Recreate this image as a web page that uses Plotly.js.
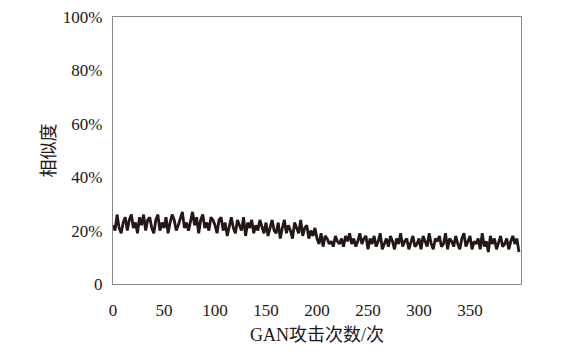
<!DOCTYPE html>
<html>
<head>
<meta charset="utf-8">
<script src="https://cdn.plot.ly/plotly-3.0.1.min.js"></script>
<style>html,body{margin:0;padding:0;background:#fff;}#chart{width:571px;height:356px;}</style>
</head>
<body>
<div id="chart"></div>
<script>
// attack counts (every 2 attempts)
const attackStep = 2;
// similarity values (%)
const similarity = [
  22,20,26,21,19,23,25,20,24,26,21,23,19,25,22,26,20,24,25,21,19,24,26,20,23,
  21,25,19,23,26,24,20,22,25,27,21,23,20,24,27,22,25,19,24,26,21,23,20,25,24,
  22,19,24,25,20,23,18,22,25,21,19,24,22,20,25,18,23,21,24,19,22,20,24,21,19,
  23,18,21,24,20,19,23,17,21,24,19,22,20,17,23,21,19,24,18,21,22,17,20,18,21,
  17,15,19,14,18,17,15,16,14,18,16,15,17,14,18,16,19,15,17,14,16,19,15,17,18,
  13,17,15,18,14,16,19,13,15,17,14,18,16,13,17,15,19,14,16,17,13,16,18,14,15,
  17,13,18,16,14,19,15,13,17,16,18,14,15,19,13,17,16,14,18,15,13,17,19,14,16,
  18,13,16,15,17,13,19,14,16,12,18,15,17,13,16,18,14,15,17,13,16,18,15,17,12
];
const attacks = similarity.map((_, i) => i * attackStep);
const xTicks = [0, 50, 100, 150, 200, 250, 300, 350];
const yTicks = [0, 0.2, 0.4, 0.6, 0.8, 1.0];
const yTickText = ['0', '20%', '40%', '60%', '80%', '100%'];
const xTitle = 'GAN攻击次数/次';
const yTitle = '相似度';

const serif = 'Liberation Serif, Times New Roman, Noto Sans CJK SC, serif';

Plotly.newPlot('chart', [{
  x: attacks,
  y: similarity.map(v => v / 100),
  type: 'scatter',
  mode: 'lines',
  line: {color: '#231815', width: 2.8},
  hoverinfo: 'skip'
}], {
  width: 571, height: 356,
  margin: {l: 113, r: 50, t: 17, b: 72},
  paper_bgcolor: '#fff', plot_bgcolor: '#fff',
  showlegend: false,
  font: {family: serif, size: 17, color: '#231815'},
  xaxis: {
    range: [0, 400],
    tickvals: xTicks,
    ticktext: xTicks.map(String),
    ticks: '',
    ticklabelstandoff: 10,
    showgrid: false, zeroline: false,
    showline: true, mirror: true, linecolor: '#8a8a8a', linewidth: 1.2,
    tickfont: {family: serif, size: 17, color: '#231815'},
    title: {text: xTitle, standoff: 9, font: {family: serif, size: 18, color: '#231815'}}
  },
  yaxis: {
    range: [0, 1],
    tickvals: yTicks,
    ticktext: yTickText,
    ticks: '',
    ticklabelstandoff: 6,
    showgrid: false, zeroline: false,
    showline: true, mirror: true, linecolor: '#8a8a8a', linewidth: 1.2,
    tickfont: {family: serif, size: 17, color: '#231815'},
    title: {text: yTitle, standoff: 2, font: {family: serif, size: 18, color: '#231815'}}
  }
}, {displayModeBar: false, staticPlot: true});
</script>
</body>
</html>
